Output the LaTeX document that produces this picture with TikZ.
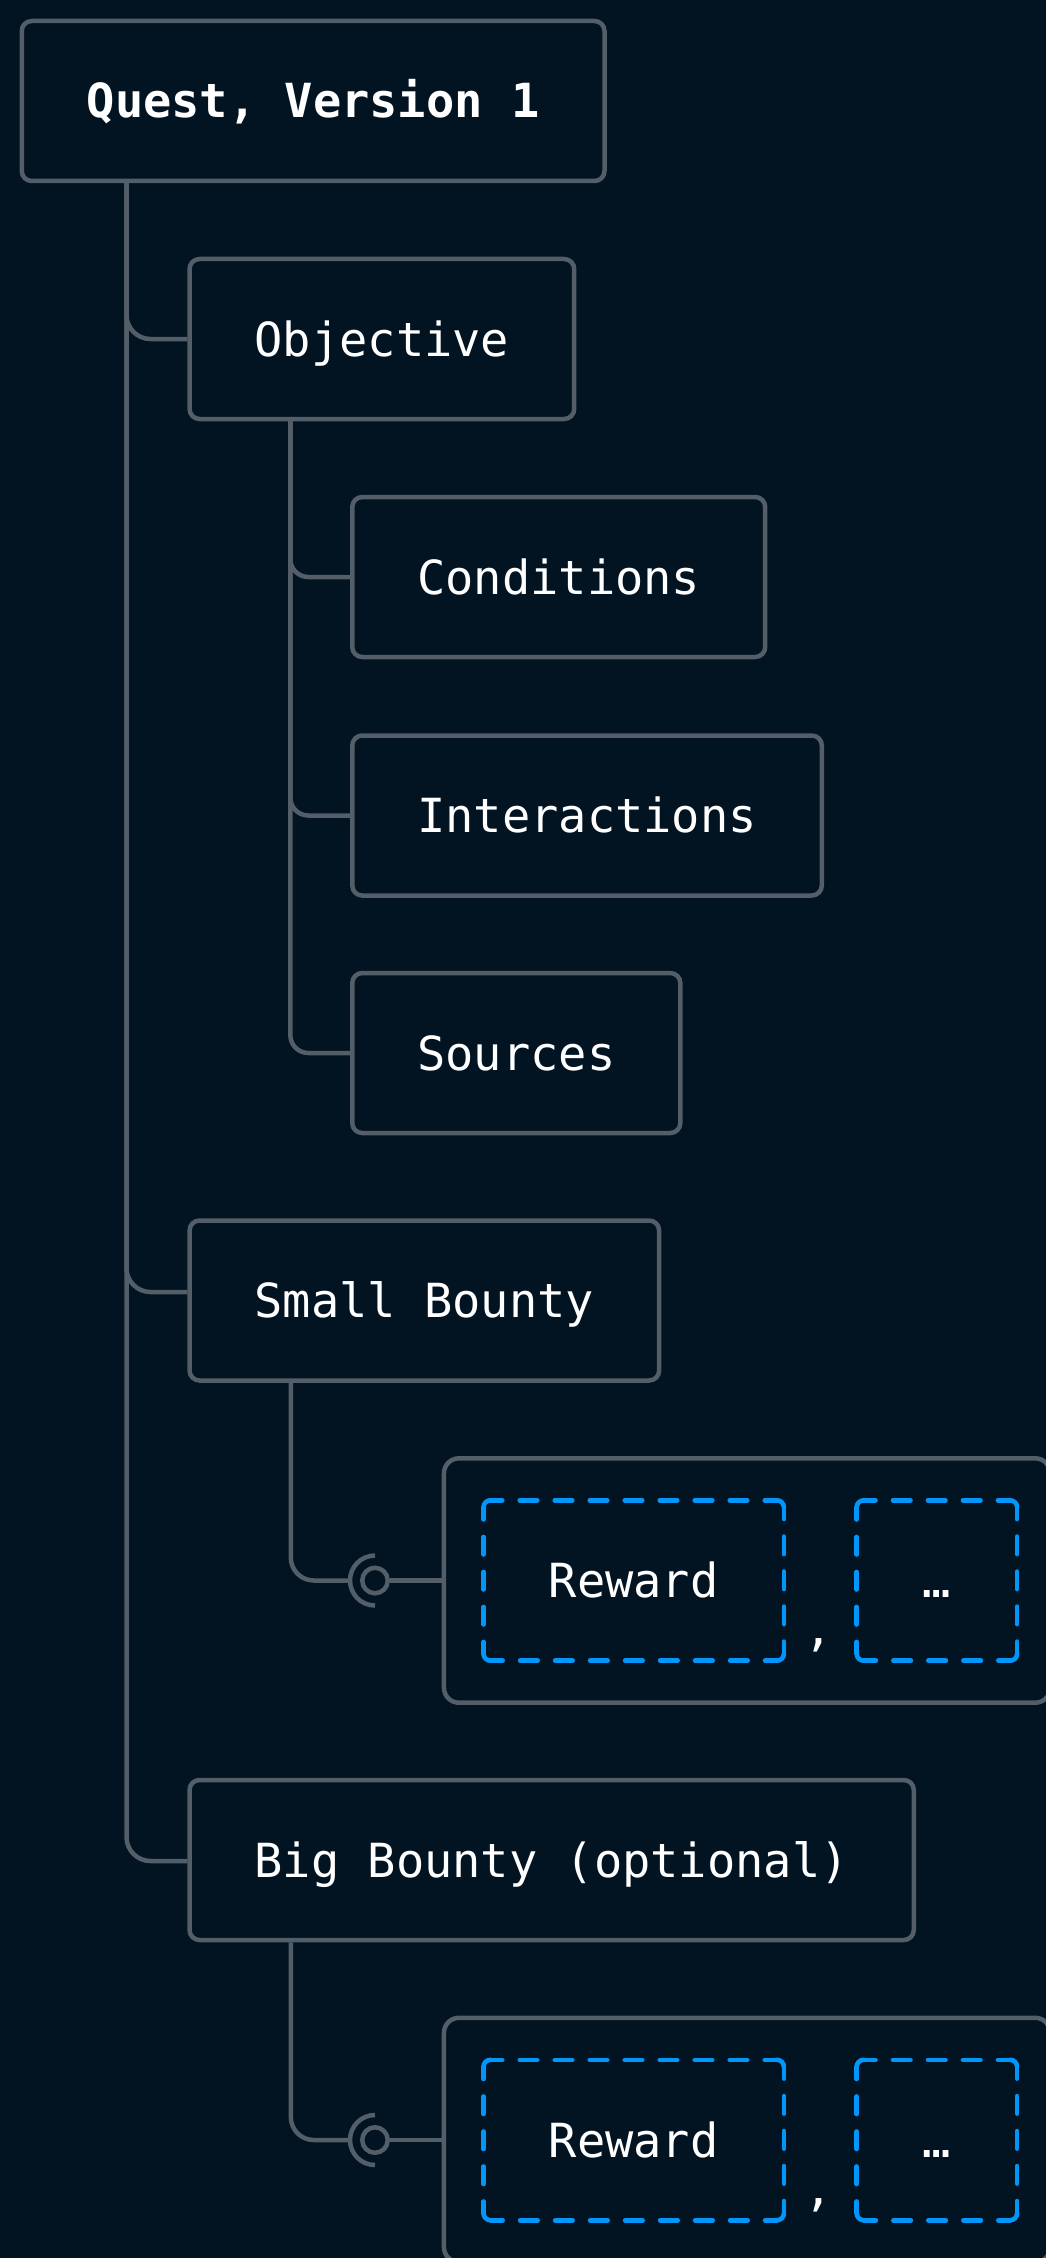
\documentclass[tikz,border=0pt]{standalone}
\usepackage{fontspec}
\usetikzlibrary{calc}
\newfontfamily\codefont{DejaVu Sans Mono}

\definecolor{bg}{RGB}{2,19,34}
\definecolor{edge}{RGB}{83,94,104}
\definecolor{slotblue}{RGB}{0,150,250}

\tikzset{
  labeltext/.style={text=white, font=\codefont\fontsize{47}{56}\selectfont,
    text height=34pt, text depth=0pt},
  box/.style={labeltext, draw=edge, line width=4.5pt, rounded corners=10pt, fill=bg,
    minimum height=160pt, inner xsep=65pt, inner ysep=0pt},
  holder/.style={draw=edge, line width=4.5pt, rounded corners=15pt, fill=bg,
    minimum width=606.3pt, minimum height=244.4pt, inner sep=0pt},
  slot/.style={labeltext, minimum height=160pt, inner sep=0pt},
  slotdash/.style={draw=slotblue, line width=4.6pt, line cap=round,
    dash pattern=on 17.5pt off 17.5pt, dash phase=5.75pt},
  slotcorner/.style={draw=slotblue, line width=4.6pt, line cap=round},
  wire/.style={draw=edge, line width=4.5pt},
  ring/.style={circle, draw=edge, line width=4.5pt, minimum size=25.5pt, inner sep=0pt},
  sep/.style={text=white, font=\codefont\fontsize{47}{56}\selectfont, anchor=base, inner sep=0pt}
}

% dashed outline of a slot: dashed sides, solid rounded corners
\newcommand\slotoutline[1]{%
  \draw[slotdash] ($(#1.north west)+(7,0)$) -- ($(#1.north east)+(-7,0)$);
  \draw[slotdash] ($(#1.north east)+(0,-7)$) -- ($(#1.south east)+(0,7)$);
  \draw[slotdash] ($(#1.south east)+(-7,0)$) -- ($(#1.south west)+(7,0)$);
  \draw[slotdash] ($(#1.south west)+(0,7)$) -- ($(#1.north west)+(0,-7)$);
  \draw[slotcorner] ($(#1.north west)+(0,-7)$) arc[start angle=180, end angle=90, radius=7pt];
  \draw[slotcorner] ($(#1.north east)+(-7,0)$) arc[start angle=90, end angle=0, radius=7pt];
  \draw[slotcorner] ($(#1.south east)+(0,7)$) arc[start angle=0, end angle=-90, radius=7pt];
  \draw[slotcorner] ($(#1.south west)+(7,0)$) arc[start angle=270, end angle=180, radius=7pt];
}

\begin{document}
\begin{tikzpicture}[x=1pt, y=1pt]
\useasboundingbox (0,0) rectangle (1046,-2258);
\fill[bg] (0,0) rectangle (1046,-2258);
\clip (0,0) rectangle (1046,-2258);

% tree nodes
\node[box, anchor=west, font=\codefont\bfseries\fontsize{47}{56}\selectfont] (quest) at (19.5,-101) {Quest, Version 1};
\node[box, anchor=west] (objective) at (187.3,-339) {Objective};
\node[box, anchor=west] (conditions) at (350,-577) {Conditions};
\node[box, anchor=west] (interactions) at (350,-815.5) {Interactions};
\node[box, anchor=west] (sources) at (350,-1053) {Sources};
\node[box, anchor=west] (small) at (187.3,-1300.5) {Small Bounty};
\node[box, anchor=west] (big) at (187.3,-1860) {Big Bounty (optional)};

% reward lists
\node[holder, anchor=west] (list1) at (441.7,-1580.5) {};
\node[slot, anchor=west, minimum width=300pt] (reward1) at (483.5,-1580.5) {Reward};
\node[slot, anchor=west, minimum width=160pt] (more1) at (856.7,-1580.5) {…};
\node[sep] (comma1) at (818.5,-1645.5) {,};
\slotoutline{reward1}
\slotoutline{more1}

\node[holder, anchor=west] (list2) at (441.7,-2140) {};
\node[slot, anchor=west, minimum width=300pt] (reward2) at (483.5,-2140) {Reward};
\node[slot, anchor=west, minimum width=160pt] (more2) at (856.7,-2140) {…};
\node[sep] (comma2) at (818.5,-2205) {,};
\slotoutline{reward2}
\slotoutline{more2}

% main trunk
\draw[wire, rounded corners=24pt] ($(quest.south west)+(107,0)$) |- (objective.west);
\draw[wire, rounded corners=24pt] ($(quest.south west)+(107,0)$) |- ($(small.west)+(0,8.5)$);
\draw[wire, rounded corners=24pt] ($(quest.south west)+(107,0)$) |- ($(big.west)+(0,-1)$);

% objective branches
\draw[wire, rounded corners=18pt] ($(objective.south west)+(103,0)$) |- (conditions.west);
\draw[wire, rounded corners=18pt] ($(objective.south west)+(103,0)$) |- (interactions.west);
\draw[wire, rounded corners=18pt] ($(objective.south west)+(103,0)$) |- (sources.west);

% bounty links (ball and socket)
\node[ring] (ball1) at (375,-1580.5) {};
\draw[wire, rounded corners=23pt] ($(small.south west)+(103.5,0)$) |- ($(ball1.center)+(-25,0)$);
\draw[wire] ($(ball1.center)+(0,25)$) arc[start angle=90, end angle=270, radius=25pt];
\draw[wire] (ball1.east) -- (list1.west);

\node[ring] (ball2) at (375,-2140) {};
\draw[wire, rounded corners=23pt] ($(big.south west)+(103.5,0)$) |- ($(ball2.center)+(-25,0)$);
\draw[wire] ($(ball2.center)+(0,25)$) arc[start angle=90, end angle=270, radius=25pt];
\draw[wire] (ball2.east) -- (list2.west);
\end{tikzpicture}
\end{document}
